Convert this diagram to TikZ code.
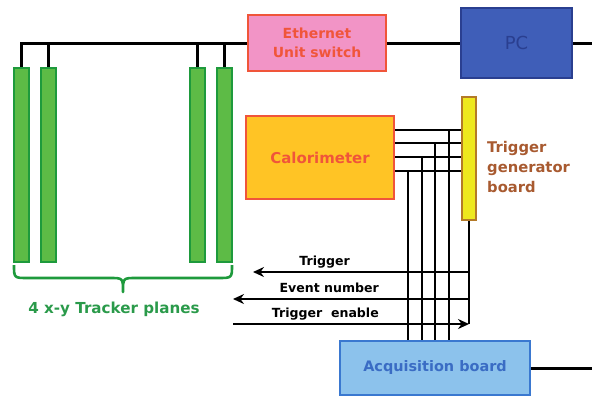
\documentclass[tikz,border=0pt]{standalone}
\usepackage{fontspec}
\setmainfont{DejaVu Sans}
\usetikzlibrary{arrows.meta}
\definecolor{barfill}{HTML}{5DBB46}
\definecolor{barline}{HTML}{1E9A3C}
\definecolor{ethfill}{HTML}{F294C6}
\definecolor{redline}{HTML}{F0553A}
\definecolor{pcfill}{HTML}{3F5EB8}
\definecolor{pcline}{HTML}{2A3F90}
\definecolor{calfill}{HTML}{FFC425}
\definecolor{tgfill}{HTML}{EEE81E}
\definecolor{tgline}{HTML}{B47A28}
\definecolor{tgtext}{HTML}{A85A30}
\definecolor{acqfill}{HTML}{8CC2EC}
\definecolor{acqline}{HTML}{3A78D0}
\definecolor{acqtext}{HTML}{3A6CC4}
\definecolor{trktext}{HTML}{2A9A4A}
\tikzset{
  bar/.style={draw=barline, fill=barfill, line width=2.2pt, minimum width=15bp, minimum height=194bp, inner sep=0pt},
  box/.style={line width=2.2pt, inner sep=0pt, align=center, font=\bfseries},
  wire/.style={black, line width=3pt},
  thinwire/.style={black, line width=2.6pt},
  sig/.style={black, line width=2.8pt},
  arr/.style={sig, -{Stealth[length=11pt,width=10pt]}},
  lab/.style={font=\bfseries\fontsize{12.6}{14}\selectfont, inner sep=0pt, black}
}
\begin{document}
\begin{tikzpicture}[x=1bp,y=-1bp]
\useasboundingbox (0,0) rectangle (592,396);
% tracker bars
\node[bar] (bar1) at (21.5,165) {};
\node[bar] (bar2) at (48.5,165) {};
\node[bar] (bar3) at (197.5,165) {};
\node[bar] (bar4) at (224.5,165) {};
% boxes
\node[box, draw=redline, fill=ethfill, text=redline, minimum width=138bp, minimum height=56bp, font=\bfseries\fontsize{14}{19}\selectfont] (eth) at (317,43) {Ethernet\\Unit switch};
\node[box, draw=pcline, fill=pcfill, text=pcline, minimum width=111bp, minimum height=70bp, font=\fontsize{18}{20}\selectfont] (pc) at (516.5,43) {PC};
\node[box, draw=redline, fill=calfill, text=redline, minimum width=148bp, minimum height=83bp, font=\bfseries\fontsize{15}{17}\selectfont] (cal) at (320,157.5) {Calorimeter};
\node[box, draw=tgline, fill=tgfill, minimum width=14bp, minimum height=123bp] (tg) at (469,158.5) {};
\node[box, draw=acqline, fill=acqfill, text=acqtext, minimum width=190bp, minimum height=54bp, font=\bfseries\fontsize{14.5}{16}\selectfont] (acq) at (435,368) {Acquisition board};
\node[anchor=base west, align=left, text=tgtext, inner sep=0pt, font=\bfseries\fontsize{14.8}{20}\selectfont] (tgl) at (487,192) {Trigger\\generator\\board};
% bus
\coordinate (edgeR) at (592,43);
\coordinate (edgeR2) at (592,368);
\draw[wire] (bar1.north) |- (eth.west);
\draw[wire] (bar2.north) -- (bar2.north |- eth.west);
\draw[wire] (bar3.north) -- (bar3.north |- eth.west);
\draw[wire] (bar4.north) -- (bar4.north |- eth.west);
\draw[wire] (eth.east) -- (pc.west);
\draw[wire] (pc.east) -- (edgeR);
\draw[wire] (acq.east |- edgeR2) -- (edgeR2);
% calorimeter to trigger board
\coordinate (j1) at (449,130);
\coordinate (j2) at (435,143);
\coordinate (j3) at (422,157);
\coordinate (j4) at (408,171);
\foreach \j in {j1,j2,j3,j4}{
  \draw[thinwire] (cal.east |- \j) -- (tg.west |- \j);
  \draw[thinwire] (\j) -- (\j |- acq.north);
}
% trigger signals
\coordinate (t1) at (253,272);
\coordinate (t2) at (233,299);
\coordinate (t3) at (233,324);
\draw[sig] (tg.south) -- (tg.south |- t3);
\draw[arr] (tg.south |- t1) -- (t1);
\draw[arr] (tg.south |- t2) -- (t2);
\draw[arr] (t3) -- (tg.south |- t3);
\node[lab, anchor=base east] (l1) at (350,265) {Trigger};
\node[lab, anchor=base east] (l2) at (379,292) {Event number};
\node[lab, anchor=base east] (l3) at (379,317) {Trigger\ \ enable};
% brace
\draw[barline, line width=2.6pt, line join=round] (14,265) .. controls (14,278) .. (28,278) -- (110,278) .. controls (123,278) .. (123,292)
  .. controls (123,278) .. (136,278) -- (218,278) .. controls (232,278) .. (232,265);
\node[text=trktext, font=\bfseries\fontsize{15.2}{17}\selectfont, inner sep=0pt] (trk) at (114,309) {4 x-y Tracker planes};
\end{tikzpicture}
\end{document}
